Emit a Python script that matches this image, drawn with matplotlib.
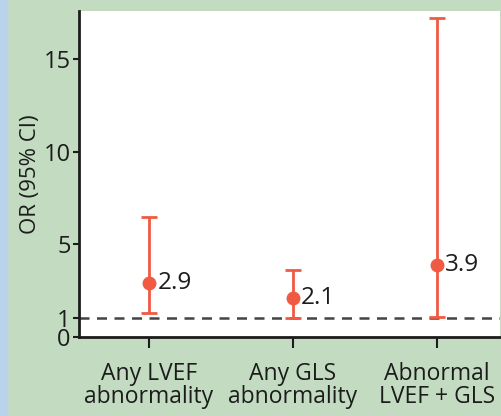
import matplotlib
matplotlib.use("Agg")
import matplotlib.pyplot as plt
from matplotlib.patches import Rectangle

# data
categories = ["Any LVEF\nabnormality", "Any GLS\nabnormality", "Abnormal\nLVEF + GLS"]
odds_ratio = [2.9, 2.1, 3.9]
ci_low = [1.3, 1.0, 1.1]
ci_high = [6.5, 3.6, 17.2]
y_ticks = [0, 1, 5, 10, 15]

plt.rcParams["font.family"] = ["Open Sans", "DejaVu Sans"]

green = "#c3dcc1"
blue = "#b9d3ea"
red = "#f15a42"
ink = "#1c1c1c"

fig = plt.figure(figsize=(5.02, 4.16), dpi=100, facecolor=green)
# blue strip on the left edge
fig.patches.append(Rectangle((0, 0), 7 / 502, 1, transform=fig.transFigure,
                             color=blue, zorder=0))

W, H = 502, 416
ax = fig.add_axes([79 / W, (H - 337) / H, (500 - 79) / W, (337 - 11) / H])
ax.set_facecolor("white")

x = list(range(len(categories)))
err_low = [o - l for o, l in zip(odds_ratio, ci_low)]
err_high = [h - o for o, h in zip(odds_ratio, ci_high)]
ax.errorbar(x, odds_ratio, yerr=[err_low, err_high], fmt="o", color=red,
            ecolor=red, elinewidth=2, capsize=6, capthick=2, markersize=9, zorder=3)

ax.axhline(1, color="#444444", linestyle=(0, (4, 3)), linewidth=1.8, zorder=2)

for xi, v in zip(x, odds_ratio):
    ax.annotate(f"{v:.1f}", (xi, v), xytext=(6, 0), textcoords="offset points",
                va="center", ha="left", fontsize=17.5, color=ink)

ax.set_xlim(-0.486, 2.44)
ax.set_ylim(0, 17.6)
ax.set_yticks(y_ticks)
ax.set_yticklabels([str(t) for t in y_ticks])
ax.set_xticks(x)
ax.set_xticklabels(categories, fontsize=16.5, color=ink, linespacing=0.95)
ax.tick_params(axis="y", labelsize=17, colors=ink, length=4, width=1.5, pad=2)
ax.tick_params(axis="x", length=8, width=1.5, pad=10, colors=ink)
ax.set_ylabel("OR (95% CI)", fontsize=16, color=ink, labelpad=2)

for s in ["top", "right"]:
    ax.spines[s].set_visible(False)
for s in ["left", "bottom"]:
    ax.spines[s].set_linewidth(2)
    ax.spines[s].set_color(ink)

fig.savefig("out.png", dpi=100, facecolor=green)
